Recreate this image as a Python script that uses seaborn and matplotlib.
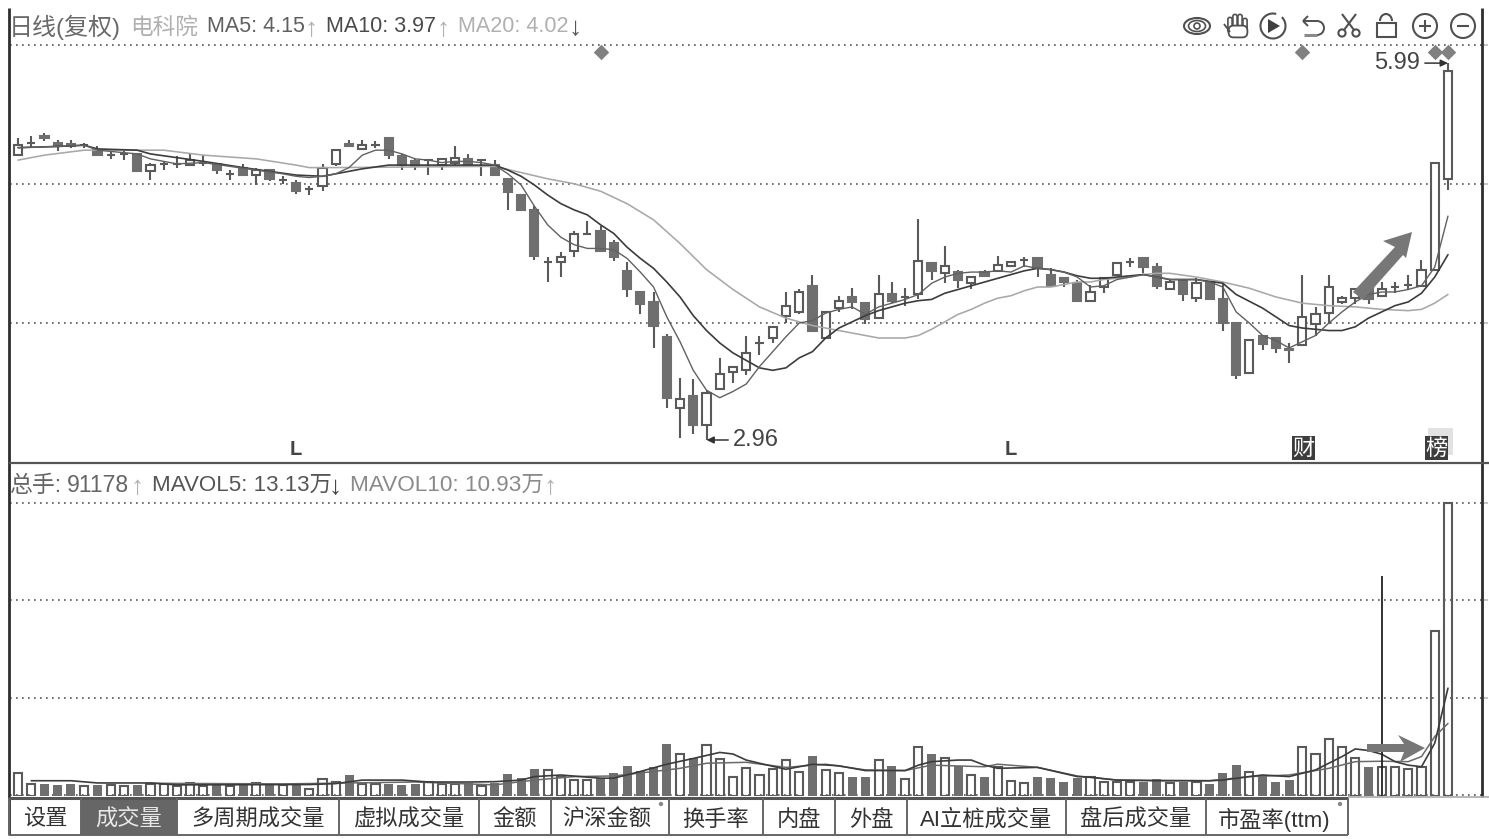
import matplotlib
matplotlib.use("Agg")
import matplotlib.pyplot as plt
from matplotlib.patches import Arc, Circle, Ellipse, FancyBboxPatch, Polygon, Rectangle
import pandas as pd
import seaborn as sns

# Daily bars, prices in yuan
opens = [5.25,5.35,5.40,5.35,5.34,5.33,5.29,5.25,5.26,5.26,5.12,5.18,5.18,5.17,5.19,5.18,5.10,5.15,5.09,5.13,5.05,5.03,4.98,5.00,5.18,5.34,5.30,5.33,5.39,5.24,5.20,5.21,5.17,5.19,5.22,5.21,5.17,
         5.06,4.93,4.81,4.39,4.39,4.48,4.62,4.64,4.54,4.32,4.15,4.07,3.79,3.22,3.31,3.08,3.37,3.51,3.52,3.74,3.78,3.96,3.99,4.20,3.78,4.02,4.11,4.06,3.94,4.13,4.11,4.13,4.38,4.30,4.31,4.22,4.31,
         4.32,4.36,4.41,4.42,4.29,4.26,4.22,4.08,4.19,4.29,4.39,4.42,4.35,4.17,4.24,4.10,4.23,4.09,3.90,3.50,3.80,3.78,3.69,3.72,3.89,3.98,4.07,4.10,4.21,4.12,4.19,4.21,4.20,4.33,5.06]
highs = [5.39,5.40,5.43,5.37,5.37,5.35,5.32,5.28,5.28,5.27,5.19,5.20,5.24,5.27,5.25,5.18,5.13,5.18,5.15,5.14,5.08,5.05,5.00,5.18,5.29,5.37,5.37,5.36,5.39,5.26,5.22,5.22,5.23,5.32,5.26,5.22,5.21,
         5.06,4.94,4.84,4.43,4.47,4.64,4.72,4.68,4.57,4.39,4.15,4.15,3.81,3.46,3.45,3.36,3.62,3.55,3.80,3.80,3.87,4.15,4.17,4.29,4.00,4.12,4.18,4.07,4.29,4.23,4.18,4.74,4.39,4.52,4.33,4.28,4.33,
         4.44,4.40,4.43,4.42,4.34,4.27,4.25,4.21,4.27,4.39,4.42,4.42,4.38,4.25,4.24,4.26,4.24,4.22,3.91,3.76,3.80,3.78,3.74,4.29,4.03,4.29,4.12,4.17,4.21,4.23,4.23,4.29,4.41,5.19,5.99]
lows = [5.25,5.31,5.36,5.28,5.31,5.31,5.25,5.22,5.21,5.12,5.05,5.13,5.15,5.17,5.16,5.10,5.05,5.09,5.01,5.04,5.02,4.94,4.93,4.96,5.16,5.32,5.30,5.31,5.22,5.13,5.13,5.09,5.13,5.17,5.17,5.08,5.09,
        4.81,4.81,4.41,4.23,4.27,4.43,4.62,4.48,4.40,4.11,3.97,3.70,3.22,2.98,3.01,2.96,3.37,3.42,3.48,3.64,3.74,3.90,3.97,3.84,3.78,3.99,4.01,3.89,3.94,4.06,4.04,4.09,4.25,4.22,4.18,4.17,4.28,
        4.32,4.36,4.35,4.27,4.20,4.19,4.08,4.07,4.14,4.29,4.35,4.30,4.17,4.17,4.08,4.07,4.09,3.84,3.45,3.50,3.68,3.66,3.58,3.72,3.80,3.89,4.05,4.05,4.05,4.11,4.14,4.17,4.20,4.33,4.97]
closes = [5.33,5.35,5.39,5.32,5.32,5.33,5.25,5.25,5.26,5.12,5.17,5.18,5.18,5.21,5.19,5.13,5.10,5.09,5.13,5.06,5.05,4.96,4.98,5.15,5.29,5.32,5.33,5.33,5.25,5.17,5.16,5.21,5.22,5.23,5.18,5.21,5.09,
          4.95,4.81,4.44,4.39,4.43,4.62,4.62,4.48,4.43,4.17,4.05,3.88,3.30,3.29,3.08,3.34,3.49,3.55,3.66,3.74,3.87,4.04,4.15,3.84,3.99,4.08,4.07,3.93,4.13,4.08,4.11,4.40,4.32,4.36,4.25,4.27,4.28,
          4.37,4.39,4.41,4.34,4.20,4.23,4.08,4.15,4.26,4.38,4.39,4.35,4.20,4.23,4.13,4.22,4.09,3.90,3.48,3.76,3.73,3.70,3.68,3.95,3.97,4.19,4.10,4.17,4.09,4.17,4.19,4.21,4.33,5.19,5.93]

# Daily turnover, in units of 10,000 lots
volumes = [7.2,3.8,3.8,3.5,3.8,3.1,3.5,3.5,3.1,3.5,3.8,3.8,3.1,4.1,3.1,4.1,3.1,3.5,4.1,3.5,3.5,3.5,2.2,5.3,4.4,6.6,3.8,3.8,3.8,3.5,3.8,4.4,3.8,3.8,4.1,3.1,4.1,
           6.9,5.7,8.5,8.2,6.0,5.0,5.0,5.7,7.2,9.4,7.9,9.1,16.3,13.2,11.9,16.0,11.6,6.0,8.8,6.6,8.5,11.3,7.5,12.6,8.2,7.2,6.0,6.0,11.3,9.4,5.3,15.4,13.2,11.9,9.4,6.6,6.0,
           9.1,4.7,4.1,6.0,5.7,4.4,5.7,6.0,4.4,4.4,4.4,4.4,5.3,4.1,4.4,4.4,3.8,7.2,9.7,7.5,6.3,4.4,5.0,15.4,13.2,17.9,15.4,11.9,9.1,9.12,9.1,8.5,9.1,51.9,92.1]

# Moving-average curves as read at selected sessions
ma5_days = [0,3,5,6,9,10,12,14,16,18,20,21,22,23,24,25,26,27,28,29,30,31,32,33,34,35,36,37,38,39,40,41,42,43,44,45,46,47,48,49,50,51,52,53,54,55,56,57,58,59,60,61,62,63,64,65,66,67,68,69,70,71,72,73,74,75,76,77,78,79,80,81,82,83,84,85,86,87,89,90,91,92,93,94,95,96,97,98,99,100,101,102,103,104,105,106,107,108]
ma5 = [5.31,5.32,5.33,5.29,5.26,5.22,5.18,5.19,5.16,5.13,5.10,5.08,5.07,5.08,5.10,5.15,5.25,5.29,5.29,5.26,5.22,5.21,5.19,5.20,5.20,5.19,5.17,5.10,5.01,4.84,4.69,4.59,4.53,4.50,4.50,4.49,4.42,4.31,4.19,3.95,3.75,3.52,3.36,3.30,3.35,3.41,3.55,3.67,3.79,3.90,3.92,3.98,4.01,4.03,3.97,4.03,4.06,4.09,4.13,4.22,4.27,4.30,4.31,4.31,4.32,4.31,4.36,4.34,4.33,4.31,4.27,4.19,4.20,4.25,4.27,4.29,4.27,4.25,4.25,4.23,4.19,3.99,3.90,3.80,3.76,3.70,3.75,3.80,3.90,3.99,4.07,4.13,4.15,4.15,4.17,4.20,4.35,4.76]
ma10_days = [0,3,5,6,9,10,14,17,21,23,26,28,31,36,37,38,39,40,41,42,43,44,45,46,47,48,49,50,51,52,53,54,55,56,57,58,59,60,61,62,63,64,65,66,67,68,69,70,71,72,73,74,75,76,77,78,79,80,81,82,83,84,85,86,87,89,91,92,94,95,96,97,98,99,100,101,102,103,104,105,106,107,108]
ma10 = [5.31,5.32,5.33,5.30,5.29,5.26,5.20,5.15,5.09,5.08,5.14,5.17,5.17,5.17,5.13,5.08,5.01,4.93,4.86,4.81,4.77,4.69,4.62,4.51,4.42,4.34,4.23,4.11,3.96,3.84,3.74,3.66,3.60,3.54,3.52,3.54,3.62,3.67,3.78,3.86,3.91,3.96,4.00,4.03,4.06,4.08,4.09,4.14,4.17,4.20,4.23,4.26,4.29,4.32,4.34,4.33,4.31,4.28,4.26,4.26,4.27,4.28,4.29,4.27,4.25,4.25,4.22,4.13,4.02,3.95,3.88,3.86,3.85,3.84,3.84,3.87,3.94,3.99,4.04,4.07,4.14,4.27,4.45]
ma20_days = [0,2,5,6,11,14,18,21,22,24,36,38,40,42,44,46,48,50,52,54,56,58,60,62,63,64,65,67,68,69,70,71,72,73,74,75,76,77,78,79,80,81,82,83,84,85,86,87,89,91,93,95,97,99,101,103,105,106,107,108]
ma20 = [5.21,5.25,5.29,5.29,5.29,5.25,5.22,5.17,5.15,5.15,5.16,5.11,5.06,5.02,4.96,4.86,4.73,4.54,4.33,4.17,4.03,3.94,3.88,3.84,3.82,3.80,3.78,3.78,3.80,3.85,3.91,3.97,4.01,4.06,4.10,4.12,4.16,4.19,4.19,4.21,4.23,4.23,4.25,4.26,4.27,4.29,4.30,4.30,4.27,4.23,4.18,4.11,4.06,4.04,4.03,4.01,4.00,4.01,4.06,4.13]
mavol5_days = [1,4,6,10,12,22,24,26,29,31,34,36,38,39,41,44,45,47,49,51,53,54,55,56,58,60,62,64,67,68,69,71,72,73,74,77,80,81,83,86,90,91,93,94,96,98,100,101,102,103,104,105,106,107,108]
mavol5 = [4.8,4.8,4.1,4.1,3.5,3.6,3.9,5.0,5.0,4.4,4.4,4.5,5.0,6.1,6.6,5.6,5.6,7.7,10.0,11.8,13.7,13.2,11.3,10.3,8.4,10.0,9.5,8.0,8.0,9.7,10.8,11.3,11.3,9.7,8.7,9.0,6.1,5.9,5.0,4.8,4.8,5.0,6.1,6.6,6.1,8.2,12.4,14.8,14.3,13.13,10.8,9.7,9.2,16.6,33.9]
mavol10_days = [10,20,30,36,39,42,45,48,50,52,55,58,61,64,67,69,73,74,77,80,83,90,93,96,99,101,103,105,106,107,108]
mavol10 = [4.0,3.8,4.4,3.5,5.0,6.1,6.3,7.7,8.7,10.3,10.6,9.0,10.0,8.2,8.0,9.7,9.2,10.0,9.0,6.3,5.0,4.8,6.1,6.6,8.7,10.8,10.93,10.8,12.4,18.7,22.8]

# Sessions flagged with a diamond along the top of the price pane
flag_days = [44, 97, 107, 108]
flag_level = [6.08, 6.08, 6.08, 6.08]
low_label_days = [21, 75]

tab_labels = ["设置", "成交量", "多周期成交量", "虚拟成交量", "金额", "沪深金额", "换手率", "内盘", "外盘", "AI立桩成交量", "盘后成交量", "市盈率(ttm)"]
tab_edges = [9, 81, 177, 339, 479, 551, 669, 763, 835, 907, 1066, 1206, 1348]

W, H = 1489, 839
INK = "#5a5a5a"
FILL = "#6f6f6f"
GRID = "#555555"
DOTS = (0, (1, 2.6))

sns.set_theme(style="white")
plt.rcParams["font.family"] = ["Liberation Sans", "Noto Sans CJK SC", "DejaVu Sans"]

bars = pd.DataFrame({"day": range(len(opens)), "open": opens, "high": highs, "low": lows,
                     "close": closes, "vol": volumes})
bars["up"] = bars["close"] >= bars["open"]
bars["top"] = bars[["open", "close"]].max(axis=1)
bars["bot"] = bars[["open", "close"]].min(axis=1)


def pane(top_px, bottom_px):
    ax = fig.add_axes([10 / W, 1 - bottom_px / H, (1482 - 10) / W, (bottom_px - top_px) / H])
    ax.set_xlim(-0.604, 110.57)
    ax.set_xticks([])
    ax.set_yticks([])
    for s in ax.spines.values():
        s.set_visible(False)
    ax.patch.set_alpha(0)
    return ax


fig = plt.figure(figsize=(W / 100, H / 100), dpi=100, facecolor="white")

# Price pane
price = pane(8, 463)
price.set_ylim(2.775, 6.433)
for level in (6.136, 5.018, 3.901):
    price.axhline(level, color=GRID, lw=1.2, ls=DOTS, zorder=1)

price.vlines(bars["day"], bars["low"], bars["high"], color=INK, lw=1.5, zorder=2)
for up, edge, face in ((True, INK, "white"), (False, FILL, FILL)):
    part = bars[bars["up"] == up]
    price.bar(part["day"], part["top"] - part["bot"], bottom=part["bot"], width=0.62,
              facecolor=face, edgecolor=edge, linewidth=1.5, zorder=3)

for days, vals, colour, lw in ((ma20_days, ma20, "#a8a8a8", 1.15),
                               (ma10_days, ma10, "#3c3c3c", 1.2),
                               (ma5_days, ma5, "#616161", 1.0)):
    sns.lineplot(x=days, y=vals, ax=price, color=colour, lw=lw, estimator=None, sort=False, zorder=4)

sns.scatterplot(x=flag_days, y=flag_level, ax=price, marker="D", s=62, color="#808080",
                linewidth=0, zorder=5)
for d in low_label_days:
    price.text(d, 2.885, "L", ha="center", va="center", fontsize=14.5, fontweight="bold", color="#444444")

low_i = bars["low"].idxmin()
high_i = bars["high"].idxmax()
price.annotate(f"{bars['low'][low_i]:.2f}", xy=(low_i, bars["low"][low_i]), xytext=(19, 0),
               textcoords="offset points", ha="left", va="center", fontsize=17, color="#444444",
               arrowprops=dict(arrowstyle="-|>,head_length=0.25,head_width=0.12", color="#333333",
                               lw=1.1, shrinkA=1, shrinkB=0))
price.annotate(f"{bars['high'][high_i]:.2f}", xy=(high_i, bars["high"][high_i]), xytext=(-20, 0),
               textcoords="offset points", ha="right", va="center", fontsize=17, color="#444444",
               arrowprops=dict(arrowstyle="-|>,head_length=0.25,head_width=0.12", color="#333333",
                               lw=1.1, shrinkA=1, shrinkB=0))
price.set_xlabel("")
price.set_ylabel("")

# Volume pane
volume = pane(463, 796)
volume.set_ylim(0, 104.7)
for level in (92.1, 61.6, 30.8, 0.4):
    volume.axhline(level, color=GRID, lw=1.2, ls=DOTS, zorder=1)
sns.barplot(data=bars[~bars["up"]], x="day", y="vol", native_scale=True, width=0.68,
            color=FILL, saturation=1, linewidth=0, ax=volume, zorder=2)
sns.barplot(data=bars[bars["up"]], x="day", y="vol", native_scale=True, width=0.62,
            fill=False, color=INK, linewidth=1.5, ax=volume, zorder=2)
sns.lineplot(x=mavol10_days, y=mavol10, ax=volume, color="#6a6a6a", lw=1.1, estimator=None, sort=False, zorder=3)
sns.lineplot(x=mavol5_days, y=mavol5, ax=volume, color="#3c3c3c", lw=1.2, estimator=None, sort=False, zorder=3)
volume.vlines(103, 0, 69.2, color="#222222", lw=1.3, zorder=4)
volume.set_xlim(-0.604, 110.57)
volume.set_ylim(0, 104.7)
volume.set_xticks([])
volume.set_yticks([])
volume.set_xlabel("")
volume.set_ylabel("")

# Pixel-addressed overlay for the terminal frame, captions, badges and toolbar
ov = fig.add_axes([0, 0, 1, 1], zorder=10)
ov.set_xlim(0, W)
ov.set_ylim(H, 0)
ov.axis("off")
ov.patch.set_alpha(0)


def rule(x0, y0, x1, y1, colour="#333333", lw=1.5):
    ov.plot([x0, x1], [y0, y1], color=colour, lw=lw, solid_capstyle="butt")


def label(x, y, s, colour="#555555", size=15.5, **kw):
    kw.setdefault("ha", "left")
    ov.text(x, y, s, color=colour, fontsize=size, va="center", **kw)


rule(8.5, 8, 8.5, 835, "#2e2e2e", 2)
rule(1482, 8, 1482, 797, "#2e2e2e", 2)
rule(9, 463, W, 463, "#555555", 1.6)
rule(9, 797.5, 1348, 797.5, "#555555", 2.2)
rule(1348, 796.5, W, 796.5, "#aaaaaa", 1.2)
rule(9, 835, 1348, 835, "#666666", 1.4)
for y in (45, 184, 323, 503, 600, 698):
    rule(1484, y, 1488, y, "#bbbbbb", 1.2)

# Chart captions
label(9, 27, "日线(复权)", "#6a6a6a", 17.3)
label(130, 27, "电科院", "#b0b0b0", 16.3)
label(207, 27, "MA5: 4.15", "#606060")
label(305, 29, "↑", "#b0b0b0", 19)
label(326, 27, "MA10: 3.97", "#4a4a4a")
label(437, 29, "↑", "#b0b0b0", 19)
label(458, 27, "MA20: 4.02", "#b0b0b0")
label(569, 28, "↓", "#555555", 19)
label(9, 485, "总手:", "#666666", 16.5)
label(67, 485, "91178", "#666666", 16.6)
label(131, 487, "↑", "#b0b0b0", 19)
label(152, 485, "MAVOL5: 13.13万", "#555555", 16.1)
label(329, 487, "↓", "#444444", 19)
label(350, 485, "MAVOL10: 10.93万", "#8a8a8a", 16.2)
label(544, 487, "↑", "#b0b0b0", 19)

# Event badges
ov.add_patch(Rectangle((1428, 428), 25, 27, color="#e2e2e2", lw=0))
for x0, ch in ((1292, "财"), (1425, "榜")):
    ov.add_patch(Rectangle((x0, 436), 23, 24, color="#3d3d3d", lw=0))
    label(x0 + 11.5, 449, ch, "white", 16, ha="center")

# Hand-drawn trend arrows
ov.add_patch(Polygon([(1353, 292), (1395, 247), (1383, 241), (1412, 232), (1406, 258), (1403, 255), (1363, 300)],
                     closed=True, color="#777777", lw=0))
ov.add_patch(Polygon([(1367, 744), (1404, 744), (1398, 735), (1425, 748), (1400, 762), (1404, 752), (1367, 752)],
                     closed=True, color="#777777", lw=0))

# Tab strip
ov.add_patch(Rectangle((81, 798), 96, 37, color="#666666", lw=0))
for edge in tab_edges:
    rule(edge, 798, edge, 835, "#666666", 1.4)
for i, text in enumerate(tab_labels):
    cx = (tab_edges[i] + tab_edges[i + 1]) / 2
    colour = "#e8e8e8" if i == 1 else "#333333"
    if i == 5 or i == 11:
        cx -= 3
    label(cx, 820, text, colour, 16, ha="center")
for star_x in (661, 1340):
    ov.add_patch(Circle((star_x, 804), 2.2, color="#888888", lw=0))

# Toolbar icons
TOOL = "#505050"
def ring(cx, cy, r, lw=1.5):
    ov.add_patch(Circle((cx, cy), r, fill=False, ec=TOOL, lw=lw))

ov.add_patch(Ellipse((1197, 26), 26, 16, fill=False, ec=TOOL, lw=1.5))
ov.add_patch(Ellipse((1197, 26), 17, 11, fill=False, ec=TOOL, lw=1.2))
ring(1197, 26, 3, 1.2)
for fx, ftop in ((1230, 18), (1235, 15), (1240, 15), (1245, 19)):
    ov.add_patch(FancyBboxPatch((fx - 1.5, ftop), 3, 14, boxstyle="round,pad=0.6,rounding_size=2",
                                fc="white", ec=TOOL, lw=1.2))
ov.add_patch(FancyBboxPatch((1229, 26), 18, 11, boxstyle="round,pad=0.4,rounding_size=5",
                            fc="white", ec=TOOL, lw=1.3))
rule(1224, 24, 1230, 32, TOOL, 1.3)
ov.add_patch(Arc((1273, 26), 25, 25, theta1=-45, theta2=285, ec=TOOL, lw=1.5))
ov.add_patch(Polygon([(1268, 19), (1280, 26), (1268, 33)], closed=True, color="#3f3f3f", lw=0))
rule(1303, 21, 1318, 21, TOOL, 1.4)
rule(1303, 21, 1308, 16, TOOL, 1.4)
rule(1303, 21, 1308, 26, TOOL, 1.4)
ov.add_patch(Arc((1317, 28), 14, 14, theta1=-90, theta2=90, ec=TOOL, lw=1.4))
rule(1317, 35, 1304, 35, "#8a8a8a", 2.2)
ring(1342, 33, 3.6)
ring(1356, 33, 3.6)
rule(1344, 30, 1356, 14, TOOL, 1.5)
rule(1354, 30, 1342, 14, TOOL, 1.5)
ov.add_patch(Rectangle((1377, 23), 19, 14, fill=False, ec=TOOL, lw=1.5))
ov.add_patch(Arc((1386, 21), 12, 14, theta1=180, theta2=360, ec=TOOL, lw=1.5))
ring(1425, 26, 12)
rule(1419, 26, 1431, 26, TOOL, 1.5)
rule(1425, 20, 1425, 32, TOOL, 1.5)
ring(1463, 26, 12)
rule(1457, 26, 1469, 26, TOOL, 1.5)

fig.savefig("out.png", dpi=100)
